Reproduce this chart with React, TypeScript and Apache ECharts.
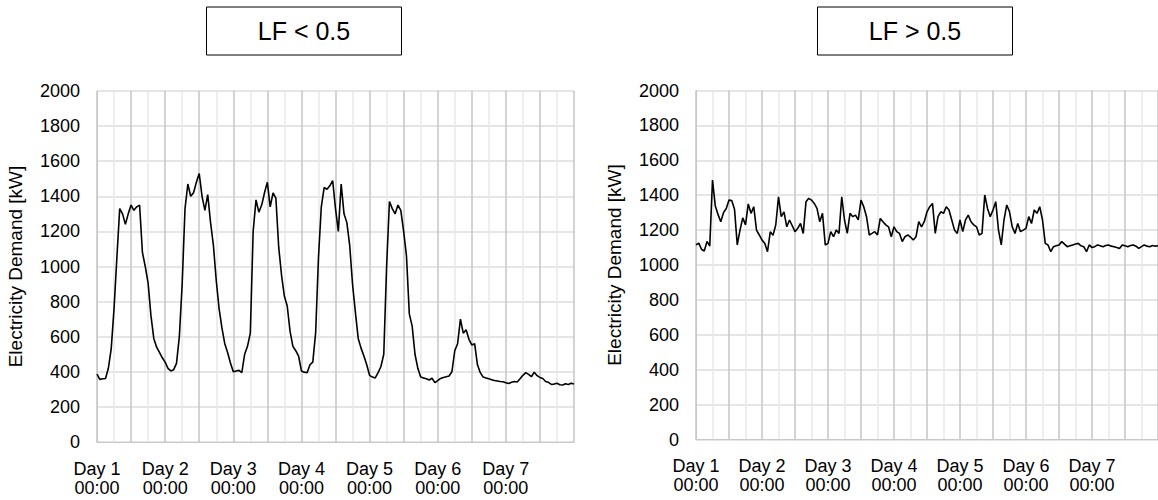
import React, { useEffect, useRef } from "react";
import * as echarts from "echarts";

// Hourly electricity demand [kW] over one week (hour 0 .. 168)
const demandLowLF: number[] = [
  387, 357, 360, 362, 420, 530, 760, 1050, 1330, 1300, 1240, 1300, 1350, 1320, 1340, 1350,
  1080, 1000, 905, 720, 590, 540, 510, 480, 455, 420, 405, 412, 448, 600, 900, 1330,
  1470, 1400, 1420, 1480, 1530, 1400, 1320, 1410, 1250, 1120, 920, 760, 650, 560, 510, 450,
  400, 405, 408, 395, 500, 545, 620, 1200, 1380, 1310, 1350, 1420, 1480, 1340, 1420, 1390,
  1110, 950, 830, 775, 630, 545, 520, 490, 405, 398, 395, 440, 455, 620, 1050, 1340,
  1450, 1440, 1460, 1490, 1330, 1200, 1470, 1300, 1250, 1120, 900, 740, 590, 535, 490, 440,
  380, 370, 365, 395, 430, 500, 1000, 1370, 1330, 1300, 1350, 1320, 1200, 1060, 730, 660,
  500, 420, 370, 365, 360, 353, 363, 338, 350, 362, 368, 372, 376, 400, 520, 560,
  700, 620, 640, 585, 553, 560, 440, 395, 370, 365, 360, 355, 350, 348, 345, 343,
  338, 333, 340, 345, 342, 360, 380, 395, 385, 372, 398, 378, 368, 362, 345, 340,
  328, 330, 335, 326, 325, 332, 328, 335, 330,
];

const demandHighLF: number[] = [
  1115, 1125, 1090, 1080, 1135, 1108, 1487, 1340, 1290, 1248, 1300, 1324, 1372, 1370, 1320, 1115,
  1200, 1270, 1230, 1350, 1296, 1334, 1200, 1172, 1143, 1124, 1076, 1190, 1170, 1229, 1391, 1277,
  1305, 1219, 1258, 1225, 1191, 1210, 1238, 1181, 1363, 1382, 1372, 1353, 1324, 1248, 1296, 1115,
  1124, 1191, 1162, 1200, 1181, 1391, 1258, 1181, 1296, 1277, 1286, 1258, 1372, 1334, 1277, 1172,
  1181, 1191, 1172, 1267, 1248, 1230, 1219, 1162, 1219, 1191, 1181, 1134, 1162, 1172, 1160, 1143,
  1162, 1248, 1219, 1248, 1305, 1334, 1353, 1181, 1277, 1305, 1296, 1334, 1315, 1258, 1200, 1181,
  1258, 1191, 1258, 1286, 1248, 1230, 1219, 1172, 1181, 1401, 1324, 1277, 1315, 1363, 1200, 1115,
  1258, 1344, 1305, 1219, 1181, 1238, 1191, 1200, 1210, 1277, 1238, 1315, 1296, 1334, 1258, 1124,
  1115, 1076, 1105, 1110, 1115, 1134, 1120, 1105, 1110, 1115, 1120, 1124, 1110, 1105, 1076, 1115,
  1100, 1105, 1115, 1110, 1105, 1112, 1115, 1108, 1105, 1100, 1095, 1115, 1110, 1105, 1112, 1115,
  1108, 1095, 1105, 1115, 1108, 1105, 1112, 1108, 1110,
];

const dayNames: string[] = ["Day 1", "Day 2", "Day 3", "Day 4", "Day 5", "Day 6", "Day 7"];
const timeOfDay = "00:00";
const panelTitles: string[] = ["LF < 0.5", "LF > 0.5"];
const yAxisTitle = "Electricity Demand [kW]";

const FONT = "'Liberation Sans', Arial, sans-serif";

function xAxisFor(gridIndex: number) {
  return {
    type: "value" as const,
    gridIndex,
    min: 0,
    max: 168,
    interval: 12,
    axisLine: { show: true, lineStyle: { color: "#c8c8c8", width: 1 } },
    axisTick: { show: false },
    axisLabel: {
      show: true,
      margin: 17,
      fontFamily: FONT,
      fontSize: 18,
      color: "#000",
      lineHeight: 19,
      showMaxLabel: false,
      formatter: (v: number) => {
        const d = v / 24;
        if (Number.isInteger(d) && d < dayNames.length) return `${dayNames[d]}\n${timeOfDay}`;
        return "";
      },
    },
    splitLine: { show: true, lineStyle: { color: "#c4c4c4", width: 1.5 } },
    minorTick: { show: false, splitNumber: 2 },
    minorSplitLine: { show: true, lineStyle: { color: "#e8e8e8", width: 1.5 } },
  };
}

function yAxisFor(gridIndex: number) {
  return {
    type: "value" as const,
    gridIndex,
    min: 0,
    max: 2000,
    interval: 200,
    name: yAxisTitle,
    nameLocation: "middle" as const,
    nameRotate: 90,
    nameGap: 72,
    nameTextStyle: { fontFamily: FONT, fontSize: 19, color: "#000" },
    axisLine: { show: true, lineStyle: { color: "#c8c8c8", width: 1 } },
    axisTick: { show: false },
    axisLabel: {
      margin: 17,
      fontFamily: FONT,
      fontSize: 18,
      color: "#000",
      formatter: (v: number) => String(v),
    },
    splitLine: { show: true, lineStyle: { color: "#dcdcdc", width: 1.5 } },
  };
}

function titleBox(cx: number, text: string) {
  const w = 195;
  const h = 48;
  return {
    type: "group" as const,
    children: [
      {
        type: "rect" as const,
        shape: { x: cx - w / 2, y: 7, width: w, height: h },
        style: { fill: "#fff", stroke: "#000", lineWidth: 1 },
      },
      {
        type: "text" as const,
        x: cx,
        y: 7 + h / 2,
        style: {
          text,
          fontFamily: FONT,
          fontSize: 25,
          fill: "#000",
          align: "center",
          verticalAlign: "middle",
        },
      },
    ],
  };
}

export default function App() {
  const ref = useRef<HTMLDivElement>(null);

  useEffect(() => {
    if (!ref.current) return;
    const chart = echarts.init(ref.current, undefined, { renderer: "svg" });
    chart.setOption({
      animation: false,
      backgroundColor: "#fff",
      grid: [
        { left: 97, top: 91, width: 477, height: 351 },
        { left: 696, top: 90.5, width: 472, height: 349 },
      ],
      xAxis: [xAxisFor(0), xAxisFor(1)],
      yAxis: [yAxisFor(0), yAxisFor(1)],
      series: [
        {
          type: "line",
          xAxisIndex: 0,
          yAxisIndex: 0,
          showSymbol: false,
          data: demandLowLF.map((v, i) => [i, v]),
          lineStyle: { color: "#000", width: 1.6 },
        },
        {
          type: "line",
          xAxisIndex: 1,
          yAxisIndex: 1,
          showSymbol: false,
          data: demandHighLF.map((v, i) => [i, v]),
          lineStyle: { color: "#000", width: 1.6 },
        },
      ],
      graphic: [titleBox(304, panelTitles[0]), titleBox(915, panelTitles[1])],
    });
    return () => chart.dispose();
  }, []);

  return (
    <div
      ref={ref}
      style={{ position: "absolute", left: 0, top: 0, width: 1158, height: 500, overflow: "hidden" }}
    />
  );
}
